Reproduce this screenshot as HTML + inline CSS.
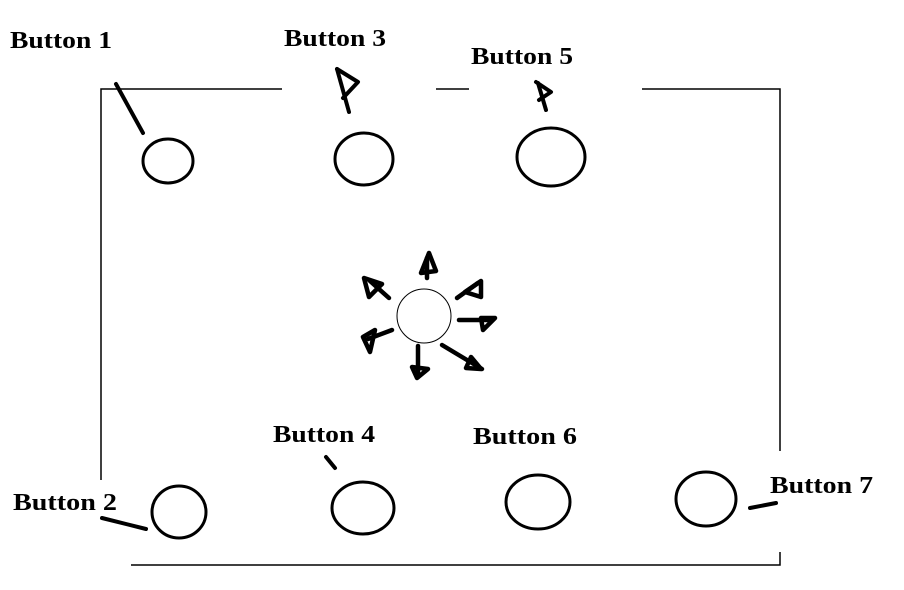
<!DOCTYPE html>
<html><head><style>
html,body{margin:0;padding:0;background:#fff;width:904px;height:590px;overflow:hidden}
text{font-family:"Liberation Serif",serif;font-weight:bold;font-size:24px;fill:#000}
</style></head><body>
<svg width="904" height="590" viewBox="0 0 904 590" xmlns="http://www.w3.org/2000/svg">
<g stroke="#000" stroke-width="1.5" fill="none">
<polyline points="282,89 101,89 101,480"/>
<line x1="436" y1="89" x2="469" y2="89"/>
<polyline points="642,89 780,89 780,451"/>
<polyline points="780,552 780,565 131,565"/>
</g>
<g stroke="#000" stroke-width="3" fill="none">
<ellipse cx="168" cy="161" rx="25" ry="22"/>
<ellipse cx="364" cy="159" rx="29" ry="26"/>
<ellipse cx="551" cy="157" rx="34" ry="29"/>
<ellipse cx="179" cy="512" rx="27" ry="26"/>
<ellipse cx="363" cy="508" rx="31" ry="26"/>
<ellipse cx="538" cy="502" rx="32" ry="27"/>
<ellipse cx="706" cy="499" rx="30" ry="27"/>
</g>
<g stroke="#000" stroke-width="4" fill="none" stroke-linejoin="round" stroke-linecap="round">
<line x1="116" y1="84" x2="143" y2="133"/>
<line x1="349" y1="112" x2="337" y2="69"/>
<polyline points="337,69 358,82 343,98"/>
<line x1="546" y1="110" x2="538" y2="83"/>
<polyline points="536,82 551,92 539,100"/>
<line x1="326" y1="457" x2="335" y2="468"/>
<line x1="102" y1="518" x2="146" y2="529"/>
<line x1="750" y1="508" x2="776" y2="503"/>
</g>
<circle cx="424" cy="316" r="27" stroke="#000" stroke-width="1" fill="none"/>
<g stroke="#000" stroke-width="4.5" fill="none" stroke-linejoin="round" stroke-linecap="round">
<line x1="427" y1="278" x2="427" y2="258"/><polygon points="421,273 429,253 436,271"/>
<line x1="389" y1="298" x2="370" y2="281"/><polygon points="364,278 382,284 369,297"/>
<line x1="457" y1="298" x2="478" y2="283"/><polygon points="465,292 481,281 481,297"/>
<line x1="459" y1="320" x2="492" y2="320"/><polygon points="481,318 495,318 483,330"/>
<line x1="392" y1="330" x2="368" y2="339"/><polygon points="363,337 375,330 370,352"/>
<line x1="418" y1="346" x2="418" y2="377"/><polygon points="412,367 428,369 417,378"/>
<line x1="442" y1="345" x2="482" y2="369"/><polygon points="471,357 481,369 466,368"/>
</g>
<g>
<text x="10" y="48" textLength="102" lengthAdjust="spacingAndGlyphs">Button 1</text>
<text x="284" y="46" textLength="102" lengthAdjust="spacingAndGlyphs">Button 3</text>
<text x="471" y="64" textLength="102" lengthAdjust="spacingAndGlyphs">Button 5</text>
<text x="273" y="442" textLength="102" lengthAdjust="spacingAndGlyphs">Button 4</text>
<text x="473" y="444" textLength="104" lengthAdjust="spacingAndGlyphs">Button 6</text>
<text x="13" y="510" textLength="104" lengthAdjust="spacingAndGlyphs">Button 2</text>
<text x="770" y="493" textLength="103" lengthAdjust="spacingAndGlyphs">Button 7</text>
</g>
</svg>
</body></html>
